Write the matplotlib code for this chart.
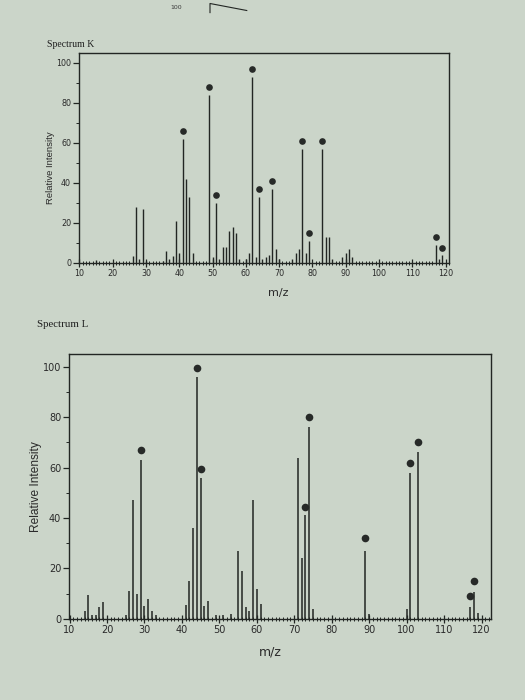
import matplotlib
matplotlib.use("Agg")
import matplotlib.pyplot as plt
from matplotlib.ticker import MultipleLocator
from matplotlib.lines import Line2D

# ---------------- data ----------------
# Spectrum K : m/z and relative intensity of each stick
k_mz = [15, 26, 27, 28, 29, 30, 35, 36, 37, 38, 39, 40, 41, 42, 43, 44,
        49, 50, 51, 52, 53, 54, 55, 56, 57, 58, 60, 61, 62, 63, 64, 65,
        66, 67, 68, 69, 70, 74, 75, 76, 77, 78, 79, 83, 84, 85, 86, 89,
        90, 91, 92, 117, 118, 119]
k_int = [1.5, 3.5, 28, 2, 27, 1, 1, 6, 2, 3.5, 21, 5, 62, 42, 33, 5,
         84, 3, 30, 2, 8, 8, 16, 18, 15, 2, 2, 5, 93, 3, 33, 2,
         3, 4, 37, 7, 2, 2, 5, 7, 57, 5, 11, 57, 13, 13, 2, 3,
         5, 7, 3, 9, 2, 4]
# labelled (dotted) peaks of spectrum K
k_dot_mz = [41, 49, 51, 62, 64, 68, 77, 79, 83, 117, 119]
k_dot_int = [66, 88, 34, 97, 37, 41, 61, 15, 61, 13, 7.5]

# Spectrum L
l_mz = [14, 15, 16, 17, 18, 19, 25, 26, 27, 28, 29, 30, 31, 32, 33,
        41, 42, 43, 44, 45, 46, 47, 49, 51, 53, 55, 56, 57, 58, 59,
        60, 61, 71, 72, 73, 74, 75, 89, 90, 100, 101, 103, 117, 118, 119]
l_int = [3, 9.5, 1.5, 1.5, 4.5, 6.5, 1.5, 11, 47, 10, 63, 5, 8, 3, 1.5,
         5.5, 15, 36, 96, 56, 5, 7, 1.5, 1.5, 2, 27, 19, 4.5, 3, 47,
         12, 6, 64, 24, 41, 76, 4, 27, 2, 4, 58, 66, 4.5, 10.5, 2.5]
l_dot_mz = [29, 44, 45, 73, 74, 89, 101, 103, 117, 118]
l_dot_int = [67, 99.5, 59.5, 44.5, 80, 32, 62, 70, 9, 15]

x_ticks = list(range(10, 121, 10))
y_ticks = list(range(0, 101, 20))

# ---------------- style ----------------
BG = "#cbd5c9"
INK = "#222623"

fig = plt.figure(figsize=(5.25, 7.0), dpi=100, facecolor=BG)


def draw(ax, mz, inten, dmz, dint, xmax, tick_fs, dot_ms, lw):
    ax.set_facecolor(BG)
    ax.vlines(mz, 0, inten, color=INK, lw=lw)
    ax.plot(dmz, dint, "o", ms=dot_ms, color="#272a28", mec="none")
    ax.set_xlim(9.8, xmax)
    ax.set_ylim(0, 105)
    ax.set_xticks(x_ticks)
    ax.set_yticks(y_ticks)
    ax.xaxis.set_minor_locator(MultipleLocator(1))
    ax.yaxis.set_minor_locator(MultipleLocator(10))
    ax.tick_params(axis="x", which="major", direction="inout", length=6,
                   width=0.9, color=INK, labelsize=tick_fs, pad=1.5,
                   labelcolor="#2a2a2a")
    ax.tick_params(axis="x", which="minor", direction="inout", length=3.5,
                   width=0.7, color=INK)
    ax.tick_params(axis="y", which="major", direction="out", length=4,
                   width=0.9, color=INK, labelsize=tick_fs, pad=1.5,
                   labelcolor="#2a2a2a")
    ax.tick_params(axis="y", which="minor", direction="out", length=2.5,
                   width=0.7, color=INK)
    for s in ax.spines.values():
        s.set_color(INK)
        s.set_linewidth(1.0)
    for lab in ax.get_xticklabels() + ax.get_yticklabels():
        lab.set_family("DejaVu Sans")


axK = fig.add_axes([0.150, 0.625, 0.705, 0.300])
draw(axK, k_mz, k_int, k_dot_mz, k_dot_int, 121, 5.8, 4.8, 1.0)

axL = fig.add_axes([0.131, 0.116, 0.804, 0.378])
draw(axL, l_mz, l_int, l_dot_mz, l_dot_int, 122.5, 7, 5.5, 1.1)

# ---------------- texts ----------------
fig.text(0.090, 0.936, "Spectrum K", family="Liberation Serif", fontsize=7,
         color="#1f1f1f", va="center", ha="left")
fig.text(0.071, 0.536, "Spectrum L", family="Liberation Serif", fontsize=7.8,
         color="#1f1f1f", va="center", ha="left")

fig.text(0.096, 0.760, "Relative Intensity", family="Liberation Sans",
         fontsize=6.8, rotation=90, ha="center", va="center", color="#2a2a2a")
fig.text(0.068, 0.305, "Relative Intensity", family="Liberation Sans",
         fontsize=8.6, rotation=90, ha="center", va="center", color="#2a2a2a")

fig.text(0.530, 0.581, "m/z", family="DejaVu Sans", fontsize=8,
         ha="center", va="center", color="#2a2a2a")
fig.text(0.514, 0.069, "m/z", family="DejaVu Sans", fontsize=9,
         ha="center", va="center", color="#2a2a2a")

# fragment of the page behind, at the top edge
fig.text(0.335, 0.989, "100", family="DejaVu Sans", fontsize=4.5,
         ha="center", va="center", color="#3a3a3a")
fig.add_artist(Line2D([0.400, 0.400, 0.470], [0.982, 0.995, 0.985],
                      transform=fig.transFigure, color=INK, lw=0.8))

fig.savefig("out.png", dpi=100, facecolor=BG)
